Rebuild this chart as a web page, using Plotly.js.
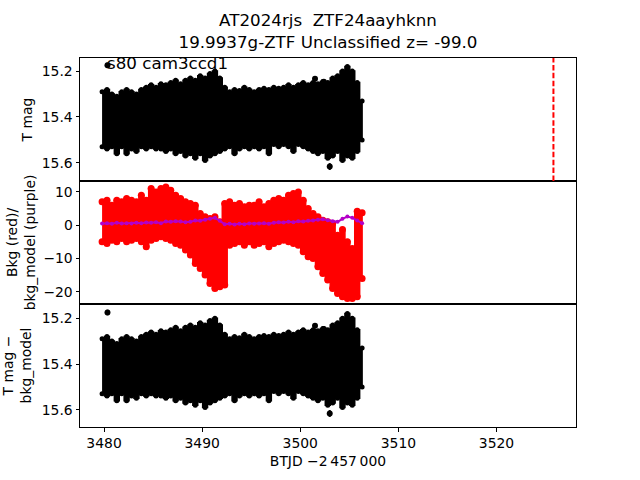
<!DOCTYPE html>
<html><head><meta charset="utf-8">
<script src="https://cdn.plot.ly/plotly-3.0.1.min.js"></script>
<style>body{margin:0;background:#fff}</style>
</head><body><div id="chart" style="width:640px;height:480px"></div>
<script>
// Time bins (BTJD - 2457000)
const t = [3479.8, 3480.3, 3480.8, 3481.3, 3481.8, 3482.3, 3482.8, 3483.3, 3483.8, 3484.3,
           3484.8, 3485.3, 3485.8, 3486.3, 3486.8, 3487.3, 3487.8, 3488.3, 3488.8, 3489.3,
           3489.8, 3490.3, 3490.8, 3491.3, 3491.8, 3492.3, 3492.8, 3493.3, 3493.8, 3494.3,
           3494.8, 3495.3, 3495.8, 3496.3, 3496.8, 3497.3, 3497.8, 3498.3, 3498.8, 3499.3,
           3499.8, 3500.3, 3500.8, 3501.3, 3501.8, 3502.3, 3502.8, 3503.3, 3503.8, 3504.3,
           3504.8, 3505.3, 3505.8, 3506.3];
// T mag: upper (bright) and lower (faint) envelope of the dense light curve
const magHi = [15.29, 15.28, 15.30, 15.31, 15.29, 15.28, 15.29, 15.30, 15.28, 15.27,
               15.26, 15.27, 15.255, 15.26, 15.25, 15.24, 15.255, 15.24, 15.23, 15.24,
               15.22, 15.23, 15.21, 15.20, 15.23, 15.27, 15.29, 15.28, 15.285, 15.27,
               15.28, 15.29, 15.28, 15.275, 15.28, 15.27, 15.275, 15.27, 15.26, 15.27,
               15.26, 15.25, 15.26, 15.25, 15.255, 15.245, 15.25, 15.23, 15.22, 15.20,
               15.18, 15.20, 15.25, 15.33];
const magLo = [15.53, 15.54, 15.53, 15.56, 15.53, 15.56, 15.54, 15.55, 15.53, 15.54,
               15.53, 15.54, 15.54, 15.55, 15.54, 15.56, 15.55, 15.57, 15.56, 15.58,
               15.56, 15.59, 15.57, 15.56, 15.55, 15.54, 15.53, 15.56, 15.54, 15.53,
               15.54, 15.53, 15.54, 15.53, 15.56, 15.52, 15.53, 15.52, 15.53, 15.55,
               15.52, 15.53, 15.54, 15.55, 15.56, 15.55, 15.58, 15.57, 15.55, 15.59,
               15.57, 15.58, 15.55, 15.50];
// isolated points
const tOut = [3480.35, 3501.5, 3502.4, 3503.0];
const magOut = [15.175, 15.233, 15.247, 15.616];
const magOutErr = [0.012, 0.012, 0.012, 0.015];
// Background (red) envelope and background model (purple)
const bkgHi = [7.0, 7.5, 6.0, 7.5, 7.0, 8.0, 7.5, 7.0, 9.0, 7.5,
               11.0, 10.0, 11.0, 11.5, 10.5, 9.0, 8.0, 7.0, 6.5, 6.0,
               3.5, 2.5, 2.0, 2.5, 1.0, 6.5, 7.0, 6.0, 6.5, 5.5,
               6.0, 6.0, 7.0, 5.5, 6.5, 7.5, 8.0, 7.5, 9.0, 9.5,
               10.0, 7.5, 5.0, 3.5, 2.5, 1.5, 1.0, 0.5, -3.0, -1.3,
               -5.0, -7.0, 4.2, 3.7];
const bkgLo = [-5.0, -5.5, -4.5, -5.0, -4.0, -5.0, -4.5, -4.0, -5.0, -6.5,
               -4.5, -4.0, -3.5, -4.0, -4.5, -5.5, -6.0, -7.5, -9.0, -11.5,
               -13.0, -15.0, -17.5, -19.0, -18.5, -18.0, -6.0, -5.5, -5.0, -6.0,
               -5.0, -6.0, -5.5, -5.0, -6.5, -5.5, -5.0, -4.5, -5.0, -5.5,
               -6.0, -8.0, -9.5, -10.0, -12.5, -14.5, -16.5, -19.0, -20.5, -21.5,
               -22.0, -22.0, -21.5, -16.0];
const bkgModel = [0.5, 0.6, 0.4, 0.7, 0.5, 0.6, 0.5, 0.7, 0.6, 0.8,
                  0.7, 0.9, 0.6, 1.1, 1.0, 1.2, 1.1, 0.9, 1.0, 1.4,
                  1.3, 1.6, 1.9, 2.2, 1.3, 0.3, 0.4, 0.2, 0.4, 0.3,
                  0.5, 0.4, 0.5, 0.6, 0.4, 0.7, 0.9, 0.8, 1.0, 0.9,
                  1.2, 1.1, 1.3, 1.4, 1.6, 1.8, 1.5, 1.2, 1.0, 1.9,
                  2.6, 2.2, 1.4, 0.6];
const tPeak = 3525.8;
const titleText = 'AT2024rjs \u00a0ZTF24aayhknn<br>19.9937g-ZTF Unclassified z= -99.0';
const label = 's80 cam3ccd1';

const FONT = 'DejaVu Sans';

function bandTraces(hi, lo, xa, ya, color, msize) {
  const rt = t.slice().reverse();
  const rlo = lo.slice().reverse();
  return [
    {x: t.concat(rt), y: hi.concat(rlo), xaxis: xa, yaxis: ya, type: 'scatter', mode: 'lines',
     fill: 'toself', fillcolor: color, line: {color: color, width: 1.5, shape: 'hvh'}},
    {x: t.concat(t), y: hi.concat(lo), xaxis: xa, yaxis: ya, type: 'scatter', mode: 'markers',
     marker: {size: msize, color: color}}
  ];
}

const data = [].concat(
  bandTraces(magHi, magLo, 'x', 'y', '#000', 5),
  [{x: tOut, y: magOut, xaxis: 'x', yaxis: 'y', type: 'scatter', mode: 'markers',
    marker: {size: 6, color: '#000'},
    error_y: {type: 'data', array: magOutErr, visible: true, color: '#000', thickness: 2, width: 0}}],
  bandTraces(bkgHi, bkgLo, 'x2', 'y2', '#ff0000', 7),
  [{x: t, y: bkgModel, xaxis: 'x2', yaxis: 'y2', type: 'scatter', mode: 'lines+markers',
    line: {color: '#b400c8', width: 2}, marker: {size: 4, color: '#b400c8'}}],
  bandTraces(magHi, magLo, 'x3', 'y3', '#000', 5),
  [{x: tOut, y: magOut, xaxis: 'x3', yaxis: 'y3', type: 'scatter', mode: 'markers',
    marker: {size: 6, color: '#000'},
    error_y: {type: 'data', array: magOutErr, visible: true, color: '#000', thickness: 2, width: 0}}]
);

const xr = [3477.55, 3528.1];
const baseAx = {showline: true, mirror: true, linecolor: '#000', linewidth: 1, showgrid: false,
  zeroline: false, tickfont: {family: FONT, size: 13.9, color: '#000'}};
const xHidden = Object.assign({}, baseAx, {range: xr, ticks: '', showticklabels: false});
const yTick = Object.assign({}, baseAx, {ticks: 'outside', ticklen: 3.5, tickwidth: 1, tickcolor: '#000'});

const layout = {
  width: 640, height: 480,
  margin: {l: 80, r: 64, t: 57.6, b: 52.8, pad: 0},
  paper_bgcolor: '#fff', plot_bgcolor: '#fff', showlegend: false,
  font: {family: FONT, size: 13.9, color: '#000'},
  title: {text: titleText, font: {family: FONT, size: 16.7, color: '#000'},
          x: 0.5, xref: 'paper', xanchor: 'center', y: 0.945, yref: 'container', yanchor: 'top'},
  xaxis: Object.assign({}, xHidden, {anchor: 'y'}),
  xaxis2: Object.assign({}, xHidden, {anchor: 'y2'}),
  xaxis3: Object.assign({}, baseAx, {range: xr, anchor: 'y3', ticks: 'outside', ticklen: 3.5,
    tickwidth: 1, tickcolor: '#000', dtick: 10, tick0: 0,
    title: {text: 'BTJD \u22122\u2009457\u2009000', font: {family: FONT, size: 13.9}, standoff: 6}}),
  yaxis: Object.assign({}, yTick, {domain: [2/3, 1], anchor: 'x', range: [15.679, 15.143],
    dtick: 0.2, tick0: 15.2, tickformat: '.1f',
    title: {text: 'T mag', font: {family: FONT, size: 13.9}, standoff: 5}}),
  yaxis2: Object.assign({}, yTick, {domain: [1/3, 2/3], anchor: 'x2', range: [-23.69, 13.27],
    dtick: 10, tick0: 0,
    title: {text: 'Bkg (red)/<br>bkg_model (purple)', font: {family: FONT, size: 13.9}, standoff: 4}}),
  yaxis3: Object.assign({}, yTick, {domain: [0, 1/3], anchor: 'x3', range: [15.675, 15.138],
    dtick: 0.2, tick0: 15.2, tickformat: '.1f',
    title: {text: 'T mag \u2212<br>bkg_model', font: {family: FONT, size: 13.9}, standoff: 6}}),
  shapes: [{type: 'line', xref: 'x', yref: 'y domain', x0: tPeak, x1: tPeak, y0: 0, y1: 1,
            line: {color: '#ff0000', width: 2, dash: '5.5px,2.4px'}}],
  annotations: [{text: label, xref: 'x', yref: 'y', x: tOut[0], y: magOut[0],
                 xanchor: 'left', yanchor: 'bottom', showarrow: false, xshift: -2, yshift: -10,
                 font: {family: FONT, size: 16.7, color: '#000'}}]
};

Plotly.newPlot('chart', data, layout, {displayModeBar: false, staticPlot: true});
</script>
</body></html>
